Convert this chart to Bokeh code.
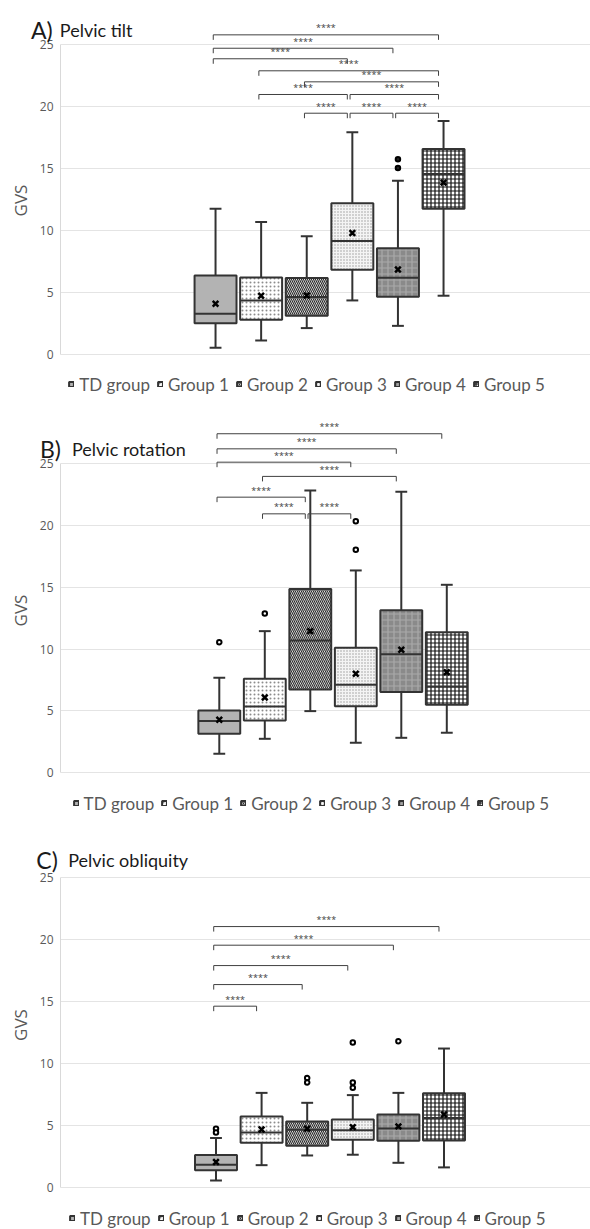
from bokeh.plotting import figure
from bokeh.models import Range1d, FixedTicker, Legend, LegendItem, ColumnDataSource
from bokeh.layouts import column
from bokeh.embed import file_html
from bokeh.resources import INLINE
from bokeh.core.properties import value

GROUPS = ["TD group", "Group 1", "Group 2", "Group 3", "Group 4", "Group 5"]
TICKS = [0, 5, 10, 15, 20, 25]

# ---------- A) Pelvic tilt ----------
A_LOW = [0.54, 1.13, 2.13, 4.36, 2.31, 4.74]
A_Q1 = [2.53, 2.80, 3.12, 6.84, 4.66, 11.76]
A_MED = [3.28, 4.36, 4.63, 9.15, 6.19, 14.56]
A_Q3 = [6.38, 6.22, 6.16, 12.19, 8.56, 16.58]
A_HIGH = [11.76, 10.68, 9.53, 17.92, 14.02, 18.84]
A_MEAN = [4.09, 4.74, 4.76, 9.80, 6.86, 13.86]
A_OUT_GROUP = [4, 4]
A_OUT_VAL = [15.74, 15.04]
A_PAIRS = [(0, 5), (0, 4), (0, 3), (1, 5), (2, 5), (1, 3), (3, 5), (2, 3), (3, 4), (4, 5)]
A_LEVELS = [25.78, 24.70, 23.85, 22.88, 21.99, 20.97, 20.97, 19.46, 19.46, 19.46]

# ---------- B) Pelvic rotation ----------
B_LOW = [1.54, 2.75, 4.99, 2.43, 2.83, 3.24]
B_Q1 = [3.16, 4.23, 6.74, 5.39, 6.53, 5.50]
B_MED = [4.18, 5.37, 10.71, 7.12, 9.60, 6.98]
B_Q3 = [5.04, 7.61, 14.86, 10.11, 13.16, 11.38]
B_HIGH = [7.69, 11.46, 22.84, 16.37, 22.73, 15.21]
B_MEAN = [4.29, 6.09, 11.46, 8.01, 9.95, 8.14]
B_OUT_GROUP = [0, 1, 3, 3]
B_OUT_VAL = [10.57, 12.89, 18.04, 20.36]
B_PAIRS = [(0, 5), (0, 4), (0, 3), (1, 4), (0, 2), (1, 2), (2, 3)]
B_LEVELS = [27.43, 26.21, 25.13, 23.98, 22.30, 20.95, 20.95]

# ---------- C) Pelvic obliquity ----------
C_LOW = [0.59, 1.82, 2.60, 2.66, 2.01, 1.64]
C_Q1 = [1.42, 3.62, 3.38, 3.86, 3.78, 3.81]
C_MED = [1.85, 4.45, 4.67, 4.64, 4.77, 5.61]
C_Q3 = [2.63, 5.74, 5.34, 5.50, 5.90, 7.62]
C_HIGH = [4.00, 7.64, 6.84, 7.46, 7.64, 11.21]
C_MEAN = [2.07, 4.69, 4.75, 4.88, 4.94, 5.90]
C_OUT_GROUP = [0, 0, 2, 2, 3, 3, 3, 4]
C_OUT_VAL = [4.75, 4.45, 8.83, 8.48, 11.70, 8.48, 8.05, 11.80]
C_PAIRS = [(0, 5), (0, 4), (0, 3), (0, 2), (0, 1)]
C_LEVELS = [21.03, 19.53, 17.89, 16.36, 14.62]

SIG = "****"

# ---------- styles (not data) ----------
LINE = "#333333"
STYLES = [
    dict(fill_color="#b3b3b3"),
    dict(fill_color="white", hatch_pattern=".", hatch_color="#8c8c8c", hatch_scale=4, hatch_weight=1.0),
    dict(fill_color="white", hatch_pattern="\\", hatch_color="#2b2b2b", hatch_scale=4, hatch_weight=1.2),
    dict(fill_color="#f4f4f4", hatch_pattern=".", hatch_color="#9a9a9a", hatch_scale=3, hatch_weight=0.9),
    dict(fill_color="#8a8a8a", hatch_pattern="+", hatch_color="#a9a9a9", hatch_scale=6, hatch_weight=1.2),
    dict(fill_color="white", hatch_pattern="+", hatch_color="#111111", hatch_scale=4, hatch_weight=1.2),
]

PANELS = [
    dict(letter="A)", name="Pelvic tilt", height=400, x0=-3.40, pxu_x=45.6, y0=-3.71, y1=28.55,
         data=(A_LOW, A_Q1, A_MED, A_Q3, A_HIGH, A_MEAN, A_OUT_GROUP, A_OUT_VAL, A_PAIRS, A_LEVELS),
         letter_x=-29.5, name_x=-0.7, title_y=26.17, leg=(8.3, 5.5), out_fill="#222222"),
    dict(letter="B)", name="Pelvic rotation", height=420, x0=-3.49, pxu_x=45.5, y0=-3.86, y1=30.12,
         data=(B_LOW, B_Q1, B_MED, B_Q3, B_HIGH, B_MEAN, B_OUT_GROUP, B_OUT_VAL, B_PAIRS, B_LEVELS),
         letter_x=-20.5, name_x=11.5, title_y=26.16, leg=(12.6, 6.5), out_fill="white"),
    dict(letter="C)", name="Pelvic obliquity", height=409, x0=-3.41, pxu_x=45.6, y0=-3.36, y1=29.57,
         data=(C_LOW, C_Q1, C_MED, C_Q3, C_HIGH, C_MEAN, C_OUT_GROUP, C_OUT_VAL, C_PAIRS, C_LEVELS),
         letter_x=-24.2, name_x=7.7, title_y=26.41, leg=(9, 0.5), out_fill="white"),
]

W = 590
LEFT = 60
BOX_HALF = 0.46
CAP_HALF = 0.13


def make_panel(cfg):
    low, q1, med, q3, high, mean, og, ov, pairs, levels = cfg["data"]
    frame_w = W - LEFT
    pxx = cfg["pxu_x"]
    p = figure(width=W, height=cfg["height"], output_backend="svg", toolbar_location=None,
               x_range=Range1d(cfg["x0"], cfg["x0"] + frame_w / pxx),
               y_range=Range1d(cfg["y0"], cfg["y1"]),
               x_axis_location=None, min_border_left=LEFT, min_border_right=0,
               min_border_top=0, min_border_bottom=0, outline_line_color=None,
               background_fill_color="white", border_fill_color="white")
    p.xgrid.visible = False
    yax = p.yaxis[0]
    yax.ticker = FixedTicker(ticks=TICKS)
    yax.bounds = (0, 25)
    yax.axis_line_color = "#d9d9d9"
    yax.major_tick_line_color = None
    yax.minor_tick_line_color = None
    yax.major_tick_out = 0
    yax.major_tick_in = 0
    yax.minor_tick_out = 0
    yax.minor_tick_in = 0
    yax.major_label_text_font = "Open Sans"
    yax.major_label_text_font_size = "12px"
    yax.major_label_text_color = "#595959"
    yax.major_label_standoff = 7
    yax.axis_label = "GVS"
    yax.axis_label_text_font = "Open Sans"
    yax.axis_label_text_font_size = "17px"
    yax.axis_label_text_font_style = "normal"
    yax.axis_label_text_color = "#595959"
    yax.axis_label_standoff = 5
    p.ygrid.grid_line_color = "#e4e4e4"
    p.ygrid.grid_line_width = 1

    xs = list(range(len(GROUPS)))
    # whiskers and caps
    p.segment(x0=xs, y0=q3, x1=xs, y1=high, line_color=LINE, line_width=2)
    p.segment(x0=xs, y0=low, x1=xs, y1=q1, line_color=LINE, line_width=2)
    p.segment(x0=[x - CAP_HALF for x in xs], y0=high, x1=[x + CAP_HALF for x in xs], y1=high,
              line_color=LINE, line_width=2)
    p.segment(x0=[x - CAP_HALF for x in xs], y0=low, x1=[x + CAP_HALF for x in xs], y1=low,
              line_color=LINE, line_width=2)
    # boxes
    box_rs = []
    for i, g in enumerate(GROUPS):
        src = ColumnDataSource(dict(left=[i - BOX_HALF], right=[i + BOX_HALF], top=[q3[i]], bottom=[q1[i]]))
        r = p.quad(left="left", right="right", top="top", bottom="bottom", source=src,
                   line_color=LINE, line_width=2, **STYLES[i])
        box_rs.append(r)
    # medians
    p.segment(x0=[x - BOX_HALF for x in xs], y0=med, x1=[x + BOX_HALF for x in xs], y1=med,
              line_color=LINE, line_width=2)
    # means
    p.scatter(x=xs, y=mean, marker="x", size=8, line_color="black", line_width=2.5)
    # outliers
    p.scatter(x=og, y=ov, marker="circle", size=4.5, line_color="black", line_width=2,
              fill_color=cfg["out_fill"])

    # significance brackets
    pxu_y = cfg["height"] / (cfg["y1"] - cfg["y0"])
    tick = 5 / pxu_y
    bx0 = [a - 0.05 for a, b in pairs]
    bx1 = [b - 0.11 for a, b in pairs]
    p.segment(x0=bx0, y0=levels, x1=bx1, y1=levels, line_color="#404040", line_width=1)
    p.segment(x0=bx0, y0=levels, x1=bx0, y1=[l - tick for l in levels], line_color="#404040", line_width=1)
    p.segment(x0=bx1, y0=levels, x1=bx1, y1=[l - tick for l in levels], line_color="#404040", line_width=1)
    p.text(x=[(a + b) / 2 for a, b in zip(bx0, bx1)], y=[l + 7 / pxu_y for l in levels],
           text=[SIG] * len(levels), text_align="center", text_baseline="middle",
           text_font=value("Open Sans"), text_font_size="9px", text_color="#404040")

    # panel title (letter sits left of the plotting frame)
    x0 = cfg["x0"]
    p.text(x=[x0 + cfg["letter_x"] / pxx], y=[cfg["title_y"]], text=[cfg["letter"]],
           text_font=value("Lato"), text_font_size="23px", text_color="#1a1a1a",
           text_baseline="alphabetic", level="overlay")
    p.text(x=[x0 + cfg["name_x"] / pxx], y=[cfg["title_y"]], text=[cfg["name"]],
           text_font=value("Lato"), text_font_size="18px", text_color="#1a1a1a",
           text_baseline="alphabetic", level="overlay")

    # legend
    items = [LegendItem(label=g, renderers=[r]) for g, r in zip(GROUPS, box_rs)]
    leg = Legend(items=items, orientation="horizontal", location=cfg["leg"],
                 glyph_width=6, glyph_height=6, label_height=6, label_width=0,
                 label_standoff=5, spacing=7, padding=0, margin=0,
                 border_line_color=None, background_fill_alpha=0,
                 label_text_font="Lato", label_text_font_size="17px",
                 label_text_color="#595959")
    p.add_layout(leg)
    return p


layout = column(*[make_panel(c) for c in PANELS], spacing=0)
open("out.html", "w").write(file_html(layout, INLINE))
